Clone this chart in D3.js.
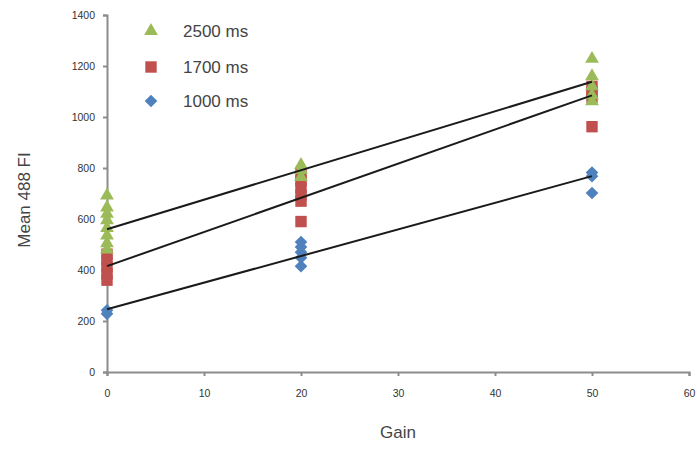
<!DOCTYPE html>
<html>
<head>
<meta charset="utf-8">
<script src="https://cdn.jsdelivr.net/npm/d3@7"></script>
<style>
  body { margin: 0; background: #fff; }
  text { font-family: "Liberation Sans", Arial, sans-serif; }
</style>
</head>
<body>
<script>
// values
const gain = [0, 20, 50];

const s2500 = [
  [0, 692], [0, 645], [0, 620], [0, 595], [0, 565], [0, 535], [0, 505], [0, 480],
  [20, 812], [20, 792], [20, 765],
  [50, 1228], [50, 1160], [50, 1120], [50, 1085], [50, 1062]
];
const s1700 = [
  [0, 462], [0, 438], [0, 412], [0, 385], [0, 360],
  [20, 778], [20, 750], [20, 722], [20, 694], [20, 670], [20, 590],
  [50, 1120], [50, 1100], [50, 1078], [50, 962]
];
const s1000 = [
  [0, 242], [0, 228],
  [20, 510], [20, 490], [20, 470], [20, 448], [20, 415],
  [50, 782], [50, 768], [50, 702]
];

// linear trend lines: [gain, value] at both ends
const trend2500 = [[0, 560], [50, 1138]];
const trend1700 = [[0, 415], [50, 1085]];
const trend1000 = [[0, 246], [50, 768]];

const xTicks = [0, 10, 20, 30, 40, 50, 60];
const yTicks = [0, 200, 400, 600, 800, 1000, 1200, 1400];
const seriesNames = ["2500 ms", "1700 ms", "1000 ms"];

const W = 697, H = 451;
const svg = d3.select("body").append("svg").attr("width", W).attr("height", H);

const x = d3.scaleLinear().domain([0, 60]).range([107, 689]);
const y = d3.scaleLinear().domain([0, 1400]).range([372, 15]);

const axisColor = "#8c8c8c";

// axes
const gx = svg.append("g").attr("transform", `translate(0,${y(0)})`)
  .call(d3.axisBottom(x).tickValues(xTicks).tickFormat(d3.format("d")).tickSize(4).tickPadding(14));
const gy = svg.append("g").attr("transform", `translate(${x(0)},0)`)
  .call(d3.axisLeft(y).tickValues(yTicks).tickFormat(d3.format("d")).tickSize(4).tickPadding(8));

[gx, gy].forEach(g => {
  g.select(".domain").attr("stroke", axisColor).attr("stroke-width", 2);
  g.selectAll(".tick line").attr("stroke", axisColor).attr("stroke-width", 2);
  g.selectAll(".tick text").attr("fill", "#333").style("font-size", "10.5px");
});

// markers
const green = "#9bbb59", red = "#c0504d", blue = "#4f81bd";
const tri = d3.symbol().type(d3.symbolTriangle).size(82);
const sq = d3.symbol().type(d3.symbolSquare).size(130);
const dia = d3.symbol().type(d3.symbolSquare).size(80); // rotated below

function drawSeries(data, sym, color, rot) {
  svg.append("g").selectAll("path").data(data).enter().append("path")
    .attr("d", sym)
    .attr("transform", d => `translate(${x(d[0])},${y(d[1])}) rotate(${rot})`)
    .attr("fill", color);
}
drawSeries(s1000, dia, blue, 45);
drawSeries(s1700, sq, red, 0);
drawSeries(s2500, tri, green, 0);

// trend lines
const line = d3.line().x(d => x(d[0])).y(d => y(d[1]));
[trend2500, trend1700, trend1000].forEach(t => {
  svg.append("path").attr("d", line(t)).attr("fill", "none")
    .attr("stroke", "#1a1a1a").attr("stroke-width", 2);
});

// legend
const legend = [
  { name: seriesNames[0], sym: tri, color: green, cy: 31, rot: 0 },
  { name: seriesNames[1], sym: sq, color: red, cy: 67, rot: 0 },
  { name: seriesNames[2], sym: dia, color: blue, cy: 101, rot: 45 }
];
legend.forEach(l => {
  svg.append("path").attr("d", l.sym).attr("fill", l.color)
    .attr("transform", `translate(151,${l.cy}) rotate(${l.rot})`);
  svg.append("text").attr("x", 183).attr("y", l.cy).attr("dy", "0.35em")
    .attr("fill", "#444").style("font-size", "17px").text(l.name);
});

// axis titles
svg.append("text").attr("x", 398).attr("y", 438).attr("text-anchor", "middle")
  .attr("fill", "#444").style("font-size", "17px").text("Gain");
svg.append("text").attr("transform", "translate(30,200) rotate(-90)")
  .attr("text-anchor", "middle").attr("fill", "#444").style("font-size", "17px")
  .text("Mean 488 FI");
</script>
</body>
</html>
